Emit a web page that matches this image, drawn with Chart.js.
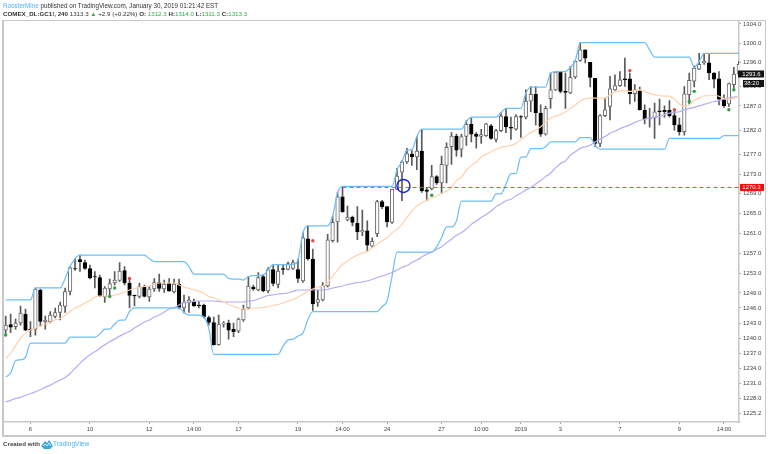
<!DOCTYPE html>
<html>
<head>
<meta charset="utf-8">
<title>COMEX_DL:GC1!, 240</title>
<script src="https://cdn.jsdelivr.net/npm/chart.js@4"></script>
<style>
  html, body { margin: 0; padding: 0; background: #fff; }
  #page { position: relative; width: 768px; height: 454px; overflow: hidden; font-family: "Liberation Sans", Arial, sans-serif; color: #333; }
  #frame { position: absolute; left: 2px; top: 20px; width: 761px; height: 414px; border: 1px solid #c8c8c8; border-left-width: 2px; border-bottom-width: 2px; box-sizing: content-box; }
  #priceChart { position: absolute; left: 0; top: 0; }
  .line { position: absolute; left: 3px; white-space: nowrap; font-size: 6.3px; line-height: 8px; }
  .author { color: #4fb3f0; }
  .up { color: #2fae4e; }
  .lbl { font-weight: bold; }
  #created { position: absolute; left: 3px; top: 440px; font-size: 6.2px; line-height: 8px; font-weight: bold; color: #444; white-space: nowrap; }
  #created svg { position: absolute; left: 38px; top: -1px; }
  #created span { position: absolute; left: 50px; top: 0; color: #4fb3f0; font-weight: normal; font-size: 6.6px; }
</style>
</head>
<body>
<div id="page">
  <div id="frame"></div>
  <canvas id="priceChart" width="768" height="454"></canvas>
  <div class="line" style="top:2px"><span class="author">RoosterMine</span> published on TradingView.com, January 30, 2019 01:21:42 EST</div>
  <div class="line" style="top:10px;font-size:6.2px"><span class="lbl">COMEX_DL:GC1!, 240</span> 1313.3 <span class="up">&#9650;</span> +2.9 (+0.22%) <span class="lbl">O:</span> <span class="up">1312.3</span> <span class="lbl">H:</span><span class="up">1314.0</span> <span class="lbl">L:</span><span class="up">1311.3</span> <span class="lbl">C:</span><span class="up">1313.3</span></div>
  <div id="created">Created with
    <svg width="12" height="10" viewBox="0 0 12 10"><path d="M0 7 L4 2 L6 4 L8 1 L12 7 L9 10 L3 10 Z" fill="#3aa8de"/><path d="M2 7 L4 5 L6 7 L8 4 L10 7" fill="none" stroke="#fff" stroke-width="0.8"/></svg>
    <span>TradingView</span></div>
</div>
<script>
const opens = [
  1241.6,1242.7,1242.3,1243.0,1244.8,1241.8,1241.8,1249.6,1243.2,1243.2,
  1244.3,1245.1,1246.3,1249.3,1253.9,1255.7,1255.1,1253.9,1252.3,1252.1,
  1248.2,1249.8,1251.0,1251.5,1253.5,1251.0,1248.6,1248.3,1250.3,1248.2,
  1249.8,1251.1,1249.8,1250.9,1249.2,1250.8,1246.0,1247.0,1247.4,1246.6,
  1246.6,1244.1,1243.1,1238.7,1242.8,1243.0,1241.8,1241.4,1243.6,1246.0,
  1250.2,1249.6,1252.3,1249.4,1253.7,1250.7,1253.9,1253.7,1253.9,1253.7,
  1251.4,1259.9,1255.8,1247.1,1247.6,1250.4,1259.5,1263.3,1268.4,1263.7,
  1264.3,1263.0,1261.3,1261.5,1258.4,1260.9,1267.4,1266.4,1263.2,1269.9,
  1273.4,1275.5,1277.1,1276.5,1277.7,1269.8,1270.0,1272.5,1271.2,1274.8,
  1278.6,1280.8,1278.1,1280.7,1283.2,1281.2,1280.7,1280.9,1282.9,1280.1,
  1281.9,1284.8,1282.6,1282.2,1284.8,1284.7,1288.0,1289.4,1285.5,1281.2,
  1288.5,1290.3,1294.0,1290.0,1289.7,1293.0,1296.4,1298.6,1296.0,1292.7,
  1279.3,1285.0,1286.9,1290.3,1291.2,1292.6,1292.6,1289.5,1290.0,1286.1,
  1284.5,1284.5,1286.0,1286.1,1286.1,1285.0,1283.1,1281.7,1289.3,1292.1,
  1294.6,1295.9,1295.9,1293.8,1292.6,1288.4,1287.4,1291.4,1293.6
];
const highs = [
  1244.4,1244.8,1243.8,1246.4,1245.8,1243.3,1250.0,1249.8,1244.4,1245.3,
  1246.0,1247.2,1250.0,1254.3,1255.9,1256.6,1255.6,1254.6,1253.3,1252.6,
  1250.3,1251.8,1253.3,1255.1,1254.3,1251.8,1248.6,1251.0,1250.6,1250.3,
  1251.9,1252.8,1251.6,1251.9,1251.8,1251.8,1248.6,1248.3,1247.8,1247.3,
  1246.8,1244.4,1244.2,1244.6,1243.3,1243.6,1243.0,1244.0,1246.6,1252.3,
  1250.6,1253.1,1252.7,1254.1,1254.7,1254.7,1254.7,1255.2,1255.6,1255.8,
  1261.1,1262.5,1257.8,1249.6,1251.1,1260.8,1264.5,1269.3,1270.5,1266.5,
  1264.5,1266.4,1265.7,1263.5,1260.1,1267.7,1267.7,1266.4,1269.9,1274.2,
  1275.7,1278.3,1277.8,1280.7,1282.2,1270.3,1274.8,1272.7,1276.7,1279.4,
  1281.5,1281.2,1281.2,1284.0,1284.5,1281.5,1282.2,1283.4,1283.2,1282.2,
  1285.6,1286.5,1284.7,1285.2,1285.0,1290.3,1291.0,1291.0,1287.2,1286.9,
  1293.8,1294.1,1294.0,1293.8,1295.2,1296.4,1300.1,1298.6,1296.0,1292.7,
  1285.2,1288.6,1293.1,1293.4,1294.1,1296.9,1293.8,1291.4,1290.9,1287.2,
  1286.5,1287.6,1288.4,1287.0,1288.1,1286.2,1284.5,1291.0,1293.8,1295.3,
  1297.9,1297.9,1297.9,1293.9,1294.1,1289.3,1291.7,1295.0,1296.2
];
const lows = [
  1240.6,1241.1,1241.8,1242.6,1241.5,1240.3,1240.6,1242.4,1241.8,1243.0,
  1244.0,1243.6,1245.1,1248.6,1253.5,1253.3,1253.7,1251.8,1250.0,1248.3,
  1247.1,1248.6,1250.6,1251.3,1250.6,1246.0,1246.4,1248.0,1248.2,1247.3,
  1249.3,1249.3,1249.1,1249.3,1249.0,1245.8,1245.0,1245.1,1246.3,1246.0,
  1244.0,1242.6,1238.6,1238.6,1242.2,1239.8,1240.3,1241.1,1243.3,1245.8,
  1249.5,1249.4,1249.2,1249.0,1250.4,1250.0,1252.7,1253.6,1253.7,1251.1,
  1251.1,1255.6,1245.5,1246.3,1247.4,1250.2,1259.2,1259.2,1265.2,1263.5,
  1262.5,1259.7,1260.5,1257.3,1258.1,1260.3,1266.0,1262.3,1263.0,1269.9,
  1267.6,1275.2,1274.8,1273.9,1269.3,1267.6,1269.8,1270.9,1269.1,1271.2,
  1275.0,1276.7,1276.5,1278.9,1279.6,1278.3,1279.3,1280.7,1280.1,1279.6,
  1281.7,1281.5,1280.1,1282.0,1280.5,1284.3,1285.8,1283.1,1280.7,1281.0,
  1286.5,1290.2,1289.7,1286.5,1289.5,1292.7,1296.2,1295.9,1290.9,1278.6,
  1278.6,1284.8,1284.1,1290.2,1291.0,1291.0,1287.4,1287.9,1286.1,1283.3,
  1282.6,1280.3,1283.1,1284.7,1284.7,1282.0,1281.0,1281.0,1287.4,1290.9,
  1294.5,1295.6,1292.4,1290.7,1287.2,1286.7,1286.9,1290.3,1293.1
];
const closes = [
  1242.6,1242.2,1243.0,1245.0,1241.6,1241.6,1249.8,1243.3,1243.6,1244.6,
  1245.1,1246.6,1249.3,1254.1,1253.8,1255.3,1253.9,1252.0,1252.2,1248.4,
  1250.0,1250.9,1251.6,1253.4,1251.0,1248.5,1248.4,1250.3,1248.3,1249.8,
  1251.1,1249.9,1250.8,1249.4,1250.8,1246.1,1247.1,1247.6,1246.4,1246.4,
  1244.2,1243.1,1238.7,1242.8,1243.0,1241.6,1241.3,1243.8,1245.8,1250.4,
  1249.8,1252.1,1249.4,1253.7,1250.9,1253.4,1253.7,1254.9,1255.1,1251.9,
  1260.1,1255.9,1246.8,1247.7,1250.5,1259.7,1263.2,1268.4,1265.4,1264.3,
  1263.2,1261.3,1261.6,1258.6,1259.4,1267.4,1266.4,1263.3,1269.9,1272.6,
  1275.5,1277.2,1276.5,1277.7,1269.6,1269.5,1272.5,1271.2,1275.0,1278.5,
  1280.8,1277.9,1280.7,1283.2,1281.2,1280.7,1281.1,1283.3,1280.3,1281.9,
  1284.9,1282.7,1282.4,1284.8,1284.7,1288.0,1289.4,1285.6,1281.2,1286.5,
  1290.3,1294.0,1290.0,1289.8,1292.9,1296.2,1298.6,1296.9,1292.9,1279.3,
  1285.0,1286.2,1290.5,1291.2,1292.4,1292.4,1289.5,1290.3,1286.2,1284.3,
  1284.4,1285.8,1285.8,1285.8,1285.0,1283.1,1281.7,1289.5,1292.3,1294.8,
  1295.6,1296.2,1293.8,1292.5,1288.4,1287.0,1291.6,1293.6,1295.6
];
const upperBand = [
  1247.6,1247.6,1247.6,1247.6,1247.6,1247.6,1250.0,1250.0,1250.0,1250.0,
  1250.0,1250.0,1251.9,1254.3,1255.9,1256.6,1256.6,1256.6,1256.6,1256.6,
  1256.6,1256.6,1256.6,1256.6,1256.6,1256.6,1256.6,1256.6,1256.6,1255.9,
  1255.3,1255.3,1255.3,1255.3,1255.3,1255.3,1255.3,1254.3,1252.8,1252.8,
  1252.8,1252.8,1252.8,1252.8,1252.8,1251.9,1251.8,1251.8,1251.6,1252.3,
  1252.5,1252.5,1252.6,1253.7,1254.7,1254.7,1254.7,1254.7,1254.7,1255.6,
  1261.1,1262.5,1262.5,1262.5,1262.5,1262.5,1264.5,1269.2,1270.5,1270.5,
  1270.5,1270.5,1270.5,1270.5,1270.5,1270.5,1270.5,1270.5,1270.5,1273.9,
  1275.5,1277.9,1278.0,1280.7,1282.2,1282.2,1282.2,1282.2,1282.2,1282.2,
  1282.2,1282.2,1282.2,1283.8,1284.7,1284.7,1284.7,1284.7,1284.7,1284.7,
  1285.6,1286.5,1286.5,1286.5,1286.5,1289.6,1290.9,1290.9,1290.9,1290.9,
  1293.8,1294.1,1294.1,1294.1,1295.0,1296.4,1300.1,1300.1,1300.1,1300.1,
  1300.1,1300.1,1300.1,1300.1,1300.1,1300.1,1300.1,1300.1,1300.1,1300.1,
  1298.6,1297.1,1297.1,1297.1,1297.1,1297.1,1297.1,1297.1,1297.1,1295.0,
  1296.2,1297.9,1297.9,1297.9,1297.9,1297.9,1297.9,1297.9,1297.9
];
const lowerBand = [
  1232.3,1233.1,1235.5,1235.7,1236.2,1239.0,1239.0,1239.0,1239.0,1239.0,
  1239.0,1239.0,1239.0,1240.2,1240.2,1240.2,1240.2,1240.2,1240.2,1240.8,
  1241.8,1241.8,1242.8,1243.6,1243.6,1245.3,1246.0,1246.0,1246.0,1246.0,
  1246.0,1246.0,1246.0,1246.0,1246.0,1246.0,1245.1,1244.6,1244.6,1244.6,
  1244.2,1242.0,1236.8,1236.8,1236.8,1236.8,1236.8,1236.8,1236.8,1236.8,
  1236.8,1236.8,1236.8,1236.8,1236.8,1236.8,1238.4,1239.6,1239.8,1240.4,
  1241.0,1243.7,1245.3,1245.3,1245.3,1245.3,1245.3,1245.3,1245.3,1245.3,
  1245.3,1245.3,1245.3,1245.3,1245.3,1245.3,1246.3,1247.4,1252.4,1257.2,
  1257.2,1257.2,1257.2,1257.2,1257.2,1257.2,1257.2,1258.3,1260.1,1262.3,
  1262.3,1263.5,1267.5,1267.5,1267.5,1267.5,1267.5,1267.5,1267.5,1269.0,
  1269.0,1271.0,1273.1,1273.1,1276.5,1276.5,1278.2,1278.2,1278.2,1278.6,
  1279.6,1279.6,1279.6,1279.6,1279.6,1279.6,1280.5,1280.5,1280.5,1278.9,
  1278.1,1278.1,1278.1,1278.1,1278.1,1278.1,1278.1,1278.1,1278.1,1278.1,
  1278.1,1278.1,1278.1,1278.1,1280.3,1280.3,1280.3,1280.3,1280.3,1280.3,
  1280.3,1280.3,1280.3,1280.3,1280.3,1280.9,1280.9,1280.9,1280.9
];
const fastAverage = [
  1236.0,1237.0,1238.5,1240.0,1241.0,1241.6,1242.0,1242.4,1242.8,1243.1,
  1243.6,1243.9,1244.6,1245.3,1246.0,1246.4,1247.0,1247.5,1248.2,1248.4,
  1248.4,1248.4,1248.6,1248.8,1249.2,1249.6,1249.9,1250.2,1250.3,1250.4,
  1250.8,1251.0,1251.0,1251.0,1251.0,1250.6,1250.2,1249.9,1249.6,1249.4,
  1249.0,1248.3,1248.0,1247.6,1247.2,1246.7,1246.3,1246.0,1245.8,1245.8,
  1246.0,1246.0,1246.1,1246.3,1246.5,1246.7,1247.0,1247.4,1247.7,1248.2,
  1248.7,1249.4,1249.8,1250.2,1250.4,1251.1,1252.4,1253.6,1254.7,1255.4,
  1256.1,1256.6,1257.0,1257.3,1258.1,1258.8,1259.5,1260.1,1261.1,1261.8,
  1262.8,1264.2,1265.5,1266.5,1267.2,1267.7,1268.2,1268.5,1269.1,1269.6,
  1270.3,1271.7,1272.4,1273.8,1274.8,1275.5,1276.5,1277.1,1277.6,1278.1,
  1278.5,1278.7,1278.9,1279.3,1280.1,1280.8,1281.5,1282.0,1282.7,1283.6,
  1284.5,1284.9,1285.2,1285.8,1286.5,1287.2,1288.0,1288.5,1288.6,1288.6,
  1288.6,1288.6,1289.3,1289.8,1290.1,1290.2,1290.0,1290.2,1290.3,1290.0,
  1289.6,1289.3,1289.1,1289.0,1289.0,1288.4,1287.4,1287.0,1287.2,1288.1,
  1288.6,1289.1,1289.1,1289.2,1289.0,1288.5,1288.4,1288.6,1289.0
];
const slowAverage = [
  1227.4,1227.7,1228.1,1228.3,1228.7,1229.0,1229.4,1229.8,1230.3,1230.7,
  1231.2,1231.7,1232.2,1233.0,1234.0,1235.0,1235.9,1236.7,1237.3,1238.0,
  1238.7,1239.3,1239.8,1240.4,1240.9,1241.3,1242.0,1242.6,1243.2,1243.6,
  1244.2,1244.6,1245.2,1245.8,1246.0,1246.6,1247.1,1247.2,1247.3,1247.4,
  1247.4,1247.4,1247.4,1247.3,1247.2,1247.2,1247.2,1247.2,1247.2,1247.4,
  1247.5,1247.8,1248.2,1248.5,1248.6,1248.8,1248.9,1249.0,1249.3,1249.6,
  1249.6,1249.6,1249.6,1249.6,1249.6,1249.7,1250.0,1250.2,1250.4,1250.7,
  1250.9,1251.1,1251.2,1251.4,1251.7,1252.1,1252.4,1252.7,1253.1,1253.6,
  1254.1,1254.5,1255.1,1255.6,1256.2,1256.8,1257.2,1257.8,1258.3,1259.1,
  1259.8,1260.6,1261.1,1261.9,1262.8,1263.5,1264.2,1264.8,1265.5,1266.4,
  1267.0,1267.6,1267.9,1268.6,1269.1,1269.8,1270.3,1271.0,1271.7,1272.5,
  1273.2,1274.3,1275.2,1275.7,1276.9,1277.6,1278.3,1278.6,1278.9,1279.6,
  1280.2,1280.7,1281.4,1281.8,1282.3,1282.7,1283.1,1283.6,1284.0,1284.3,
  1284.5,1284.7,1284.8,1285.2,1285.5,1285.7,1285.8,1286.2,1286.5,1286.7,
  1287.0,1287.3,1287.6,1287.9,1288.1,1288.4,1288.6,1288.8,1289.0
];

const greenSignalBars = [0, 21, 22, 86, 138, 139, 146, 147];
const greenSignalPrices = [1240.6, 1248.3, 1250.0, 1268.7, 1287.9, 1290.0, 1286.2, 1290.3];
const redSignalBars = [25, 62, 126, 135];
const redSignalPrices = [1251.9, 1259.5, 1294.3, 1286.2];

const levelPrice = 1270.3;
const levelStartBar = 68;
const circleBar = [80.3];
const circlePrice = [1270.6];
const lastPrice = 1293.6;
const countdown = "38:20";

const priceTicks = [1304, 1300, 1296, 1291, 1287, 1282, 1277, 1273, 1269, 1265, 1261, 1257, 1253, 1249, 1246, 1243, 1240, 1237, 1234, 1231, 1228, 1225.2];
const timeTickBars = [5, 17, 29, 38, 47, 59, 68, 77, 88, 96, 104, 112, 124, 136, 145];
const timeTickLabels = ["6", "10", "12", "14:00", "17", "19", "14:00", "24", "27", "10:00", "2019", "3", "7", "9", "14:00"];

const xMin = -0.44;
const xMax = 148.04;

function points(values) {
  return values.map((v, i) => ({ x: i, y: v }));
}

function pairs(bars, prices) {
  return bars.map((b, i) => ({ x: b, y: prices[i] }));
}

function lineSet(values, color, order, width) {
  return {
    type: "line",
    data: points(values),
    borderColor: color,
    borderWidth: width,
    pointRadius: 0,
    cubicInterpolationMode: "monotone",
    order: order,
  };
}

function dotSet(data, color) {
  return {
    type: "line",
    data: data,
    showLine: false,
    pointRadius: 1.7,
    pointBackgroundColor: color,
    pointBorderWidth: 0,
    order: 1,
  };
}

// price boxes on the right axis
const priceTags = {
  id: "priceTags",
  afterDraw(chart) {
    const ctx = chart.ctx;
    const y = chart.scales.y;
    function tag(text, px, left, color) {
      ctx.fillStyle = color;
      ctx.fillRect(left, px - 3.5, 764 - left, 7);
      ctx.fillStyle = "#fff";
      ctx.font = "6px 'Liberation Sans', Arial, sans-serif";
      ctx.textAlign = "center";
      ctx.textBaseline = "middle";
      ctx.fillText(text, 751.5, px + 0.3);
    }
    const py = y.getPixelForValue(lastPrice);
    tag(lastPrice.toFixed(1), py, 738, "#131313");
    tag(countdown, py + 9.5, 743, "#131313");
    tag(levelPrice.toFixed(1), y.getPixelForValue(levelPrice), 740, "#f60c0c");
  },
};

new Chart(document.getElementById("priceChart"), {
  type: "bar",
  data: {
    datasets: [
      {
        data: lows.map((l, i) => ({ x: i, y: [l, highs[i]] })),
        backgroundColor: "#5a5a5a",
        barThickness: 1,
        order: 7,
      },
      {
        data: opens.map((o, i) => ({ x: i, y: [o, closes[i]] })),
        backgroundColor: opens.map((o, i) => (closes[i] >= o ? "#ffffff" : "#000000")),
        borderColor: opens.map((o, i) => (closes[i] >= o ? "#6a6a6a" : "#000000")),
        borderWidth: 1,
        borderSkipped: false,
        barThickness: 3.6,
        order: 6,
      },
      lineSet(slowAverage, "#b4acf6", 5, 1.2),
      lineSet(fastAverage, "#fdd2ac", 4, 1.2),
      lineSet(upperBand, "#6fbff8", 3, 1.25),
      lineSet(lowerBand, "#6fbff8", 3, 1.25),
      {
        type: "line",
        data: [{ x: levelStartBar, y: levelPrice }, { x: xMax, y: levelPrice }],
        borderColor: "#f7443c",
        borderWidth: 1,
        borderDash: [4, 3],
        pointRadius: 0,
        order: 2,
      },
      dotSet(pairs(greenSignalBars, greenSignalPrices), "#2f9e44"),
      dotSet(pairs(redSignalBars, redSignalPrices), "#f0454a"),
      {
        type: "line",
        data: pairs(circleBar, circlePrice),
        showLine: false,
        pointRadius: 6.5,
        pointBackgroundColor: "rgba(0,0,0,0)",
        pointBorderColor: "#1a22d6",
        pointBorderWidth: 1.4,
        order: 0,
      },
    ],
  },
  options: {
    responsive: false,
    animation: false,
    events: [],
    layout: { autoPadding: false, padding: { left: 3.5, top: 20.5, right: 0, bottom: 0 } },
    plugins: { legend: { display: false }, tooltip: { enabled: false } },
    datasets: { bar: { grouped: false } },
    scales: {
      x: {
        type: "linear",
        min: xMin,
        max: xMax,
        offset: false,
        afterBuildTicks: (scale) => {
          scale.ticks = timeTickBars.map((b) => ({ value: b }));
        },
        afterFit: (scale) => {
          scale.height = 32;
        },
        grid: { drawOnChartArea: false, tickLength: 2, color: "#999", offset: false },
        border: { color: "#c8c8c8", width: 1.5 },
        ticks: {
          autoSkip: false,
          maxRotation: 0,
          padding: 2,
          color: "#444",
          font: { family: "'Liberation Sans', Arial, sans-serif", size: 5.8 },
          callback: (v) => timeTickLabels[timeTickBars.indexOf(v)],
        },
      },
      y: {
        type: "logarithmic",
        position: "right",
        min: 1223.45,
        max: 1304.73,
        afterBuildTicks: (scale) => {
          scale.ticks = priceTicks.map((p) => ({ value: p }));
        },
        afterFit: (scale) => {
          scale.width = 29;
        },
        grid: { drawOnChartArea: false, tickLength: 2, color: "#999" },
        border: { color: "#c8c8c8", width: 1.5 },
        ticks: {
          autoSkip: false,
          padding: 2,
          color: "#444",
          font: { family: "'Liberation Sans', Arial, sans-serif", size: 6 },
          callback: (v) => Number(v).toFixed(1),
        },
      },
    },
  },
  plugins: [priceTags],
});
</script>
</body>
</html>
